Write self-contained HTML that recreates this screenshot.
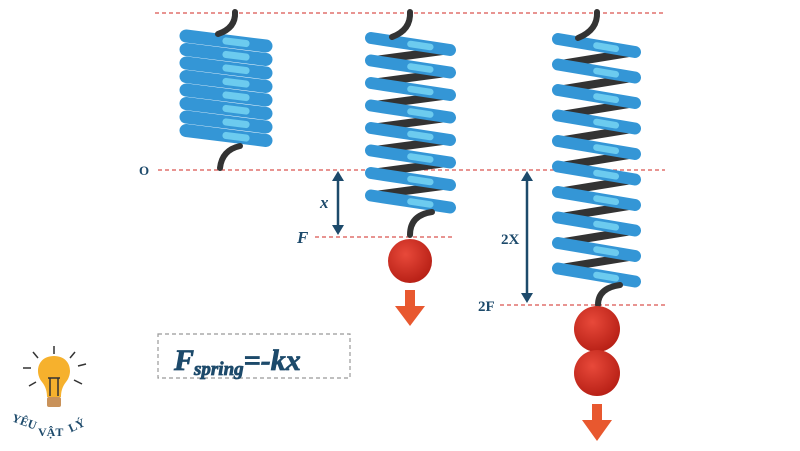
<!DOCTYPE html>
<html><head><meta charset="utf-8"><style>
html,body{margin:0;padding:0;background:#fff;width:800px;height:451px;overflow:hidden}
svg{display:block}
text{font-family:"Liberation Serif",serif;font-weight:bold;fill:#1d4a6b}
</style></head><body>
<svg id="s" width="800" height="451" viewBox="0 0 800 451">
<g stroke="#d9534f" stroke-width="1.2" stroke-dasharray="4,3">
<line x1="155" y1="13" x2="665" y2="13"/>
<line x1="158" y1="170" x2="665" y2="170"/>
<line x1="315" y1="237" x2="452" y2="237"/>
<line x1="500" y1="305" x2="665" y2="305"/>
</g>
<g id="springs"></g>
<g fill="none" stroke="#333" stroke-width="6" stroke-linecap="round">
<path d="M235 12 Q236 28 218 34"/>
<path d="M240 146 Q222 150 220 168"/>
<path d="M410 12 Q411 30 392 37"/>
<path d="M432 212 Q410 215 410 235"/>
<path d="M597 12 Q598 30 578 38"/>
<path d="M620 285 Q598 288 598 305"/>
</g>
<defs><radialGradient id="b" cx="0.4" cy="0.35" r="0.7"><stop offset="0" stop-color="#e8493a"/><stop offset="1" stop-color="#b51e14"/></radialGradient></defs>
<circle cx="410" cy="261" r="22" fill="url(#b)"/>
<circle cx="597" cy="329" r="23" fill="url(#b)"/>
<circle cx="597" cy="373" r="23" fill="url(#b)"/>
<g fill="#e8582f">
<polygon points="405,290 415,290 415,306 425,306 410,326 395,306 405,306"/>
<polygon points="592,404 602,404 602,420 612,420 597,441 582,420 592,420"/>
</g>
<g stroke="#1d4a6b" stroke-width="2.5" fill="#1d4a6b">
<line x1="338" y1="176" x2="338" y2="230"/>
<polygon points="338,171 332,181 344,181" stroke="none"/>
<polygon points="338,235 332,225 344,225" stroke="none"/>
<line x1="527" y1="176" x2="527" y2="298"/>
<polygon points="527,171 521,181 533,181" stroke="none"/>
<polygon points="527,303 521,293 533,293" stroke="none"/>
</g>
<text x="139" y="175" font-size="13">O</text>
<text x="320" y="208" font-size="17" font-style="italic">x</text>
<text x="297" y="243" font-size="17" font-style="italic">F</text>
<text x="501" y="244" font-size="15">2X</text>
<text x="478" y="311" font-size="15">2F</text>
<rect x="158" y="334" width="192" height="44" fill="none" stroke="#999" stroke-width="1.2" stroke-dasharray="4,3"/>
<text x="174" y="370" font-size="30" font-style="italic" stroke="#1d4a6b" stroke-width="0.8">F<tspan font-size="19" dy="5">spring</tspan><tspan dy="-5" font-size="30">=-kx</tspan></text>
<g stroke="#333" stroke-width="1.5">
<line x1="54" y1="346" x2="54" y2="354"/><line x1="33" y1="352" x2="38" y2="358"/><line x1="75" y1="352" x2="70" y2="358"/>
<line x1="23" y1="368" x2="31" y2="368"/><line x1="78" y1="366" x2="86" y2="364"/>
<line x1="29" y1="386" x2="36" y2="382"/><line x1="74" y1="380" x2="82" y2="384"/>
</g>
<path d="M54 356 C38 356 34 372 42 382 C46 387 47 392 47 397 L61 397 C61 392 62 387 66 382 C74 372 70 356 54 356Z" fill="#f6b12d"/>
<rect x="47" y="397" width="14" height="10" rx="2" fill="#c9925a"/>
<g fill="none" stroke="#333" stroke-width="1.5"><path d="M50 396 V378 M58 396 V378 M48 378 h12"/></g>
<text x="12" y="424" font-size="12" font-family="Liberation Sans" transform="rotate(20 20 420)">YÊU</text>
<text x="38" y="436" font-size="12" font-family="Liberation Sans">VẬT</text>
<text x="68" y="430" font-size="12" font-family="Liberation Sans" transform="rotate(-25 75 425)">LÝ</text>
</svg>
<script>
var g=document.getElementById('springs'),ns='http://www.w3.org/2000/svg';
function L(x1,y1,x2,y2,c,w){var l=document.createElementNS(ns,'line');l.setAttribute('x1',x1);l.setAttribute('y1',y1);l.setAttribute('x2',x2);l.setAttribute('y2',y2);l.setAttribute('stroke',c);l.setAttribute('stroke-width',w);l.setAttribute('stroke-linecap','round');g.appendChild(l);}
function spring(x0,x1,y0,n,gap,drop,back,w){
 for(var i=0;i<n;i++){var y=y0+i*gap;
  if(back&&i<n-1)L(x1-6,y+drop,x0+6,y+gap,'#333',8);}
 for(var i=0;i<n;i++){var y=y0+i*gap;
  L(x0+6,y,x1-6,y+drop,'#3496d6',w);
  var a=0.5,b=0.75;L(x0+6+(x1-x0-12)*a,y+drop*a,x0+6+(x1-x0-12)*b,y+drop*b,'#6ccbef',w*0.55);}
}
spring(180,272,36,8,13.5,10,false,13);
spring(365,456,38,8,22.5,12,true,12);
spring(552,641,39,10,25.5,13,true,12);
</script>
</body></html>
